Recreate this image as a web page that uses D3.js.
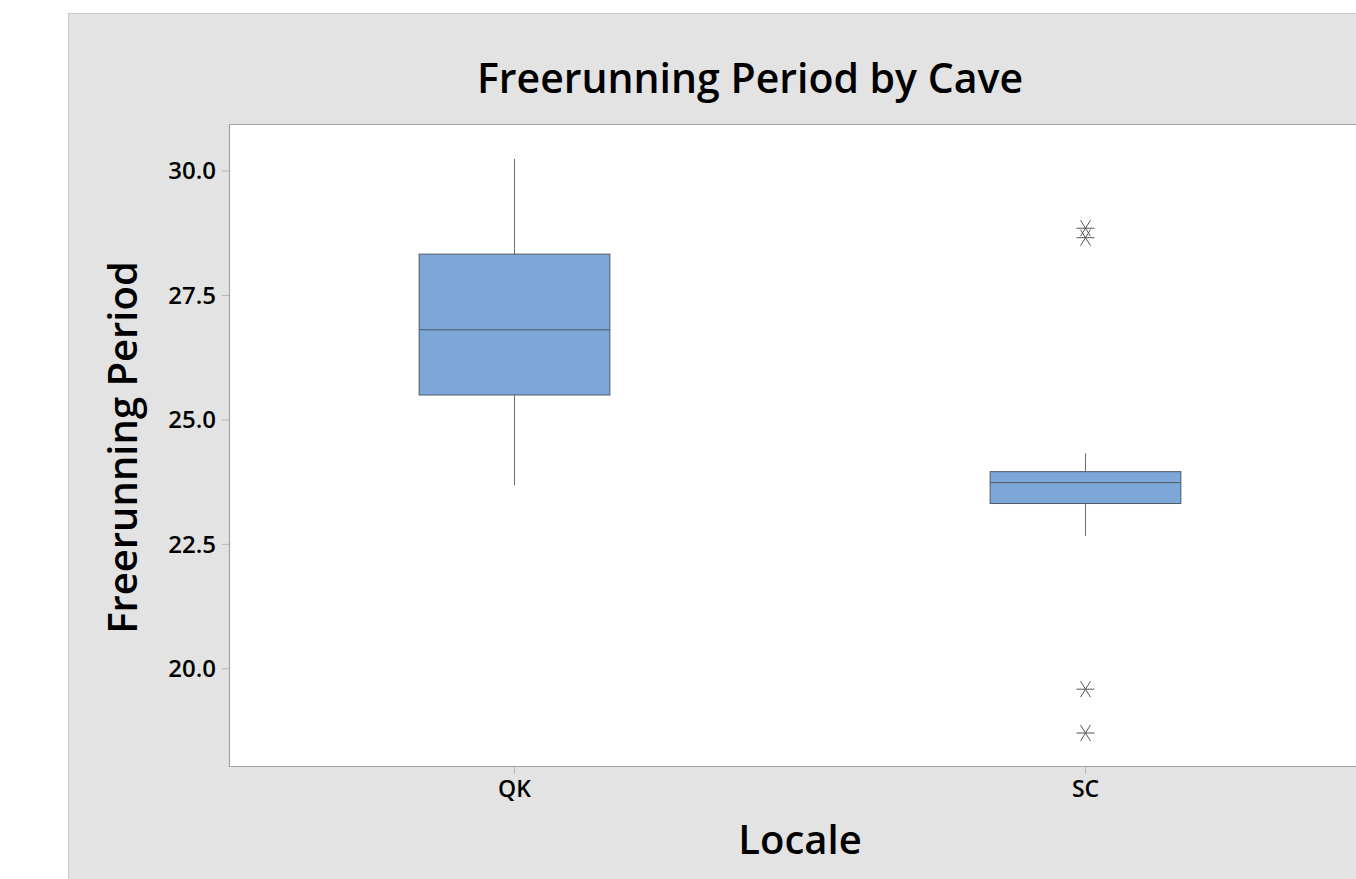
<!DOCTYPE html>
<html>
<head>
<meta charset="utf-8">
<script src="https://cdn.jsdelivr.net/npm/d3@7"></script>
<style>
  html, body { margin: 0; padding: 0; background: #ffffff; overflow: hidden; }
  svg { display: block; }
  text { font-family: "Open Sans", "Noto Sans", sans-serif; fill: #000; }
</style>
</head>
<body>
<svg id="chart" width="1356" height="879"></svg>
<script>
// Freerunning period per cave locale: box summaries and outliers
const locales = ["QK", "SC"];
const q1 = [25.49, 23.31];
const median = [26.80, 23.73];
const q3 = [28.32, 23.95];
const whiskerLow = [23.68, 22.66];
const whiskerHigh = [30.23, 24.32];
const outlierLocale = ["SC", "SC", "SC", "SC"];
const outlierValue = [28.84, 28.65, 19.58, 18.70];
const yTicks = [20.0, 22.5, 25.0, 27.5, 30.0];

const svg = d3.select("#chart");

// outer panel
svg.append("rect")
  .attr("x", 68.5).attr("y", 13.5)
  .attr("width", 1400).attr("height", 1000)
  .attr("fill", "#e3e3e3").attr("stroke", "#c9c9c9");

const plot = { left: 229, top: 124, right: 1371, bottom: 767 };

const x = d3.scaleBand().domain(locales).range([plot.left, plot.right]);
const y = d3.scaleLinear().domain([18.017, 30.934]).range([plot.bottom, plot.top]);

// plot area
svg.append("rect")
  .attr("x", plot.left).attr("y", plot.top)
  .attr("width", plot.right - plot.left).attr("height", plot.bottom - plot.top)
  .attr("fill", "#ffffff");
svg.append("path")
  .attr("d", `M${plot.right},${plot.top + 0.5}H${plot.left + 0.5}V${plot.bottom - 0.5}H${plot.right}`)
  .attr("fill", "none").attr("stroke", "#a3a3a3").attr("stroke-width", 1.2);

// y axis
const yAxis = d3.axisLeft(y).tickValues(yTicks).tickFormat(d3.format(".1f")).tickSize(7).tickPadding(6);
const gy = svg.append("g").attr("transform", `translate(${plot.left},0)`).call(yAxis);
gy.select(".domain").remove();
gy.selectAll(".tick line").attr("stroke", "#b5b5b5");
gy.selectAll(".tick text")
  .style("font-size", "24px").style("font-weight", 600).attr("fill", "#000").attr("dy", "0.35em");

// x axis
const xAxis = d3.axisBottom(x).tickSize(7).tickPadding(7);
const gx = svg.append("g").attr("transform", `translate(0,${plot.bottom})`).call(xAxis);
gx.select(".domain").remove();
gx.selectAll(".tick line").attr("stroke", "#b5b5b5");
gx.selectAll(".tick text")
  .style("font-size", "23px").style("font-weight", 600).attr("fill", "#000");

const boxW = x.bandwidth() * 0.334;
const boxes = locales.map((loc, i) => ({
  loc, q1: q1[i], med: median[i], q3: q3[i], lo: whiskerLow[i], hi: whiskerHigh[i]
}));

const g = svg.append("g");
// whiskers
g.selectAll("line.whisker-hi").data(boxes).join("line")
  .attr("x1", d => x(d.loc) + x.bandwidth() / 2).attr("x2", d => x(d.loc) + x.bandwidth() / 2)
  .attr("y1", d => y(d.hi)).attr("y2", d => y(d.q3))
  .attr("stroke", "#6e6e6e").attr("stroke-width", 1);
g.selectAll("line.whisker-lo").data(boxes).join("line")
  .attr("x1", d => x(d.loc) + x.bandwidth() / 2).attr("x2", d => x(d.loc) + x.bandwidth() / 2)
  .attr("y1", d => y(d.q1)).attr("y2", d => y(d.lo))
  .attr("stroke", "#6e6e6e").attr("stroke-width", 1);
// boxes
g.selectAll("rect.box").data(boxes).join("rect")
  .attr("x", d => x(d.loc) + x.bandwidth() / 2 - boxW / 2)
  .attr("y", d => y(d.q3))
  .attr("width", boxW)
  .attr("height", d => y(d.q1) - y(d.q3))
  .attr("fill", "#7ca7d8").attr("stroke", "#4f5a66").attr("stroke-width", 1);
// medians
g.selectAll("line.median").data(boxes).join("line")
  .attr("x1", d => x(d.loc) + x.bandwidth() / 2 - boxW / 2)
  .attr("x2", d => x(d.loc) + x.bandwidth() / 2 + boxW / 2)
  .attr("y1", d => y(d.med)).attr("y2", d => y(d.med))
  .attr("stroke", "#4f5a66").attr("stroke-width", 1);

// outliers drawn as asterisks
const outliers = outlierValue.map((v, i) => ({ loc: outlierLocale[i], v }));
const star = "M-9,0H9M-5,-8L5,8M-5,8L5,-8";
g.selectAll("path.outlier").data(outliers).join("path")
  .attr("transform", d => `translate(${x(d.loc) + x.bandwidth() / 2},${y(d.v)})`)
  .attr("d", star)
  .attr("fill", "none").attr("stroke", "#555").attr("stroke-width", 1);

// titles
svg.append("text")
  .attr("x", 750).attr("y", 93).attr("text-anchor", "middle")
  .style("font-size", "41px").style("font-weight", 600)
  .text("Freerunning Period by Cave");
svg.append("text")
  .attr("x", (plot.left + plot.right) / 2).attr("y", 854).attr("text-anchor", "middle")
  .style("font-size", "40px").style("font-weight", 600)
  .text("Locale");
svg.append("text")
  .attr("transform", `translate(137,${(plot.top + plot.bottom) / 2 + 2}) rotate(-90)`)
  .attr("text-anchor", "middle")
  .style("font-size", "40px").style("font-weight", 600)
  .text("Freerunning Period");
</script>
</body>
</html>
